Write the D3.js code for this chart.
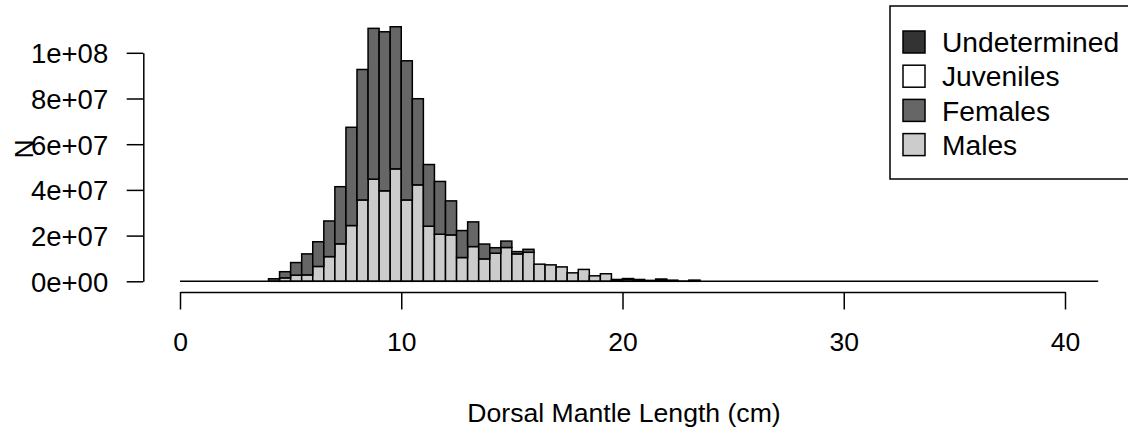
<!DOCTYPE html>
<html>
<head>
<meta charset="utf-8">
<script src="https://cdn.jsdelivr.net/npm/d3@7"></script>
<style>
  html, body { margin: 0; padding: 0; background: #fff; }
  svg { display: block; font-family: "Liberation Sans", Arial, sans-serif; }
</style>
</head>
<body>
<svg id="chart" width="1128" height="434"></svg>
<script>
// Bin lower edges (cm), bin width 0.5 cm
const binStarts = [4.0,4.5,5.0,5.5,6.0,6.5,7.0,7.5,8.0,8.5,9.0,9.5,10.0,10.5,11.0,11.5,12.0,12.5,13.0,13.5,14.0,14.5,15.0,15.5,16.0,16.5,17.0,17.5,18.0,18.5,19.0,19.5,20.0,20.5,21.0,21.5,22.0,22.5,23.0];
const binWidth = 0.5;
// Values in millions
const males        = [0,1.5,2.7,2.8,6.5,10.8,16.4,24.4,35.6,44.7,39.6,49.2,35.6,42.2,24.1,20.6,20.3,10.4,15.2,9.8,12.3,14.8,12.0,12.7,7.5,7.2,6.3,3.7,5.2,2.4,3.3,0.3,0.8,0.3,0.2,0.4,0.2,0.05,0.3];
const females      = [1.1,2.7,5.5,9.2,10.8,15.6,25.0,43.0,57.1,66.0,69.6,62.2,60.9,37.7,27.0,23.1,14.9,11.8,10.8,6.5,2.4,2.8,1.0,1.3,0,0,0,0,0,0,0,0.5,0.4,0.5,0.2,0.6,0.3,0,0.2];
const juveniles    = [0,0,0,0,0,0,0,0,0,0,0,0,0,0,0,0,0,0,0,0,0,0,0,0,0,0,0,0,0,0,0,0,0,0,0,0,0,0,0];
const undetermined = [0,0,0,0,0,0,0,0,0,0,0,0,0,0,0,0,0,0,0,0,0,0,0,0,0,0,0,0,0,0,0,0,0,0,0,0,0,0,0];

const seriesNames  = ["Males","Females","Juveniles","Undetermined"];
const seriesColors = ["#cccccc","#666666","#ffffff","#333333"];
const legendOrder  = ["Undetermined","Juveniles","Females","Males"];

const xTicks = [0,10,20,30,40];
const yTicks = [0,2e7,4e7,6e7,8e7,1e8];
const baselineExtent = [0, 41.5];
const xTitle = "Dorsal Mantle Length (cm)";
const yTitle = "N";

const svg = d3.select("#chart");
const x = d3.scaleLinear().domain([0,40]).range([180,1065]);
const y = d3.scaleLinear().domain([0,1e8]).range([281.3,52.8]);

const rows = binStarts.map((b,i) => ({
  bin: b,
  Males: males[i]*1e6, Females: females[i]*1e6,
  Juveniles: juveniles[i]*1e6, Undetermined: undetermined[i]*1e6
}));
const stacked = d3.stack().keys(seriesNames)(rows);
const color = d3.scaleOrdinal().domain(seriesNames).range(seriesColors);

// bars
const g = svg.append("g");
stacked.forEach(layer => {
  g.append("g").selectAll("rect")
    .data(layer.filter(d => d[1] - d[0] > 0))
    .enter().append("rect")
    .attr("x", d => x(d.data.bin))
    .attr("width", d => x(d.data.bin + binWidth) - x(d.data.bin))
    .attr("y", d => y(d[1]))
    .attr("height", d => y(d[0]) - y(d[1]))
    .attr("fill", color(layer.key))
    .attr("stroke", "#000")
    .attr("stroke-width", 1.5);
});

// baseline
svg.append("line")
  .attr("x1", x(baselineExtent[0])).attr("x2", x(baselineExtent[1]))
  .attr("y1", y(0)).attr("y2", y(0))
  .attr("stroke", "#000").attr("stroke-width", 1.5);

// y axis
const fmtSci = v => {
  if (v === 0) return "0e+00";
  const e = Math.floor(Math.log10(v));
  const m = Math.round(v / Math.pow(10, e));
  return m + "e+" + String(e).padStart(2, "0");
};
const yAxis = d3.axisLeft(y).tickValues(yTicks).tickFormat(fmtSci)
  .tickSize(16.6).tickSizeOuter(0).tickPadding(18.5);
const yg = svg.append("g").attr("transform", "translate(143.3,0)").call(yAxis);
yg.selectAll("path,line").attr("stroke", "#000").attr("stroke-width", 1.5);
yg.selectAll("text").attr("font-size", 27.5).attr("fill", "#000")
  .attr("font-family", "Liberation Sans, Arial, sans-serif").attr("dy", "0.36em");

// x axis
const xAxis = d3.axisBottom(x).tickValues(xTicks).tickFormat(d3.format("d"))
  .tickSize(17.5).tickSizeOuter(0).tickPadding(23);
const xg = svg.append("g").attr("transform", "translate(0,292)").call(xAxis);
xg.selectAll("path,line").attr("stroke", "#000").attr("stroke-width", 1.5);
xg.selectAll("text").attr("font-size", 26.5).attr("fill", "#000")
  .attr("font-family", "Liberation Sans, Arial, sans-serif").attr("dy", "0.71em");

// titles
svg.append("text").attr("x", 624).attr("y", 422)
  .attr("text-anchor", "middle").attr("font-size", 26.6).attr("fill", "#000")
  .text(xTitle);
svg.append("text").attr("transform", "translate(33,149) rotate(-90)")
  .attr("text-anchor", "middle").attr("font-size", 26.5).attr("fill", "#000")
  .text(yTitle);

// legend
const lg = svg.append("g");
lg.append("rect").attr("x", 890).attr("y", 6).attr("width", 260).attr("height", 173)
  .attr("fill", "#fff").attr("stroke", "#000").attr("stroke-width", 1.5);
legendOrder.forEach((name, i) => {
  const cy = 42 + i * 34.2;
  lg.append("rect").attr("x", 903).attr("y", cy - 11).attr("width", 22).attr("height", 22)
    .attr("fill", color(name)).attr("stroke", "#000").attr("stroke-width", 1.5);
  lg.append("text").attr("x", 942).attr("y", cy).attr("dy", "0.36em")
    .attr("font-size", 28.2).attr("fill", "#000").text(name);
});
</script>
</body>
</html>
